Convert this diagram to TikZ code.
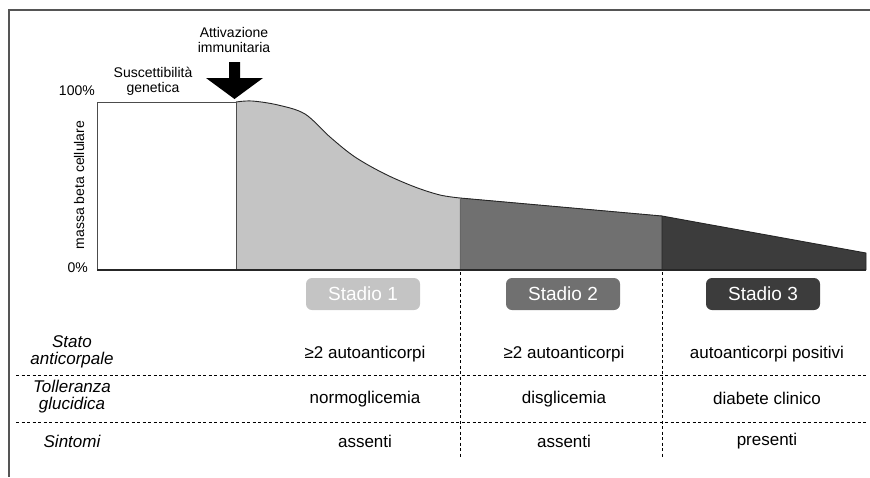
\documentclass[tikz,border=0pt]{standalone}
\usepackage{fontspec}
\setmainfont{Liberation Sans}
\definecolor{lightg}{HTML}{C4C4C4}
\definecolor{midg}{HTML}{707070}
\definecolor{darkg}{HTML}{3C3C3C}
\definecolor{framec}{HTML}{555555}
\begin{document}
\begin{tikzpicture}[x=1pt,y=-1pt,
  lab/.style={font=\fontsize{14}{15}\selectfont, align=center, inner sep=0pt},
  cell/.style={font=\fontsize{17}{17}\selectfont, align=center, inner sep=0pt},
  rowlab/.style={font=\fontsize{17}{17}\selectfont\itshape, align=center, inner sep=0pt},
  stadio/.style={rounded corners=6pt, minimum width=114pt, minimum height=32pt, text=white,
    font=\fontsize{19}{20}\selectfont, inner sep=0pt},
  sep/.style={black, line width=1pt, dash pattern=on 3pt off 2.5pt},
  outline/.style={black!85, line width=0.9pt},
  framel/.style={framec, line width=2pt}]
\useasboundingbox (0,0) rectangle (870,477);
% frame
\draw[framel] (8,10) -- (870,10);
\draw[framel] (9,10) -- (9,477);
% white block
\draw[black!70, line width=0.9pt, fill=white] (97,102) rectangle (236,270);
% light region
\fill[lightg] (236,270) -- (236,102) -- plot[smooth, tension=0.55] coordinates {(236,102) (252,101) (278,105) (305,114) (330,137) (355,157) (385,174) (415,187) (440,195) (460,198)} -- (460,270) -- cycle;
\draw[outline] plot[smooth, tension=0.55] coordinates {(236,102) (252,101) (278,105) (305,114) (330,137) (355,157) (385,174) (415,187) (440,195) (460,198)};
\draw[black!70, line width=0.9pt] (236,102) -- (236,270);
% mid region
\filldraw[midg] (460,270) -- (460,198) -- (662,216) -- (662,270) -- cycle;
\draw[outline] (460,198) -- (662,216);
\draw[black!60, line width=0.7pt] (460,198) -- (460,270);
% dark region
\fill[darkg] (662,270) -- (662,216) -- (866,253) -- (866,270) -- cycle;
\draw[outline] (662,270) -- (662,216) -- (866,253) -- (866,270);
% axis
\draw[black!85, line width=1.2pt] (97,270) -- (866,270);
% arrow
\fill[black] (229,62) -- (240,62) -- (240,78) -- (263,78) -- (234.5,99) -- (206,78) -- (229,78) -- cycle;
% top labels
\node[lab] (attiv) at (234,40) {Attivazione\\immunitaria};
\node[lab] (susc) at (153,81) {Suscettibilità\\genetica};
\node[lab, anchor=east] (p100) at (95,91) {100\%};
\node[lab, anchor=east] (p0) at (88,268) {0\%};
\node[lab, rotate=90] (ylab) at (79,185) {massa beta cellulare};
% stage boxes
\node[stadio, fill=lightg] (s1) at (363,294) {Stadio 1};
\node[stadio, fill=midg] (s2) at (563,294) {Stadio 2};
\node[stadio, fill=darkg] (s3) at (763,294) {Stadio 3};
% separators
\draw[sep] (460,272) -- (460,458);
\draw[sep] (662,272) -- (662,458);
\draw[sep] (16,375) -- (866,375);
\draw[sep] (16,422) -- (866,422);
% row labels
\node[rowlab] (r1) at (72,352) {Stato\\anticorpale};
\node[rowlab] (r2) at (72,397) {Tolleranza\\glucidica};
\node[rowlab] (r3) at (72,441) {Sintomi};
% cells
\node[cell] (c11) at (365,354) {≥2 autoanticorpi};
\node[cell] (c12) at (564,354) {≥2 autoanticorpi};
\node[cell] (c13) at (767,354) {autoanticorpi positivi};
\node[cell] (c21) at (365,399) {normoglicemia};
\node[cell] (c22) at (564,399) {disglicemia};
\node[cell] (c23) at (767,398) {diabete clinico};
\node[cell] (c31) at (365,441) {assenti};
\node[cell] (c32) at (564,441) {assenti};
\node[cell] (c33) at (767,441) {presenti};
\end{tikzpicture}
\end{document}
